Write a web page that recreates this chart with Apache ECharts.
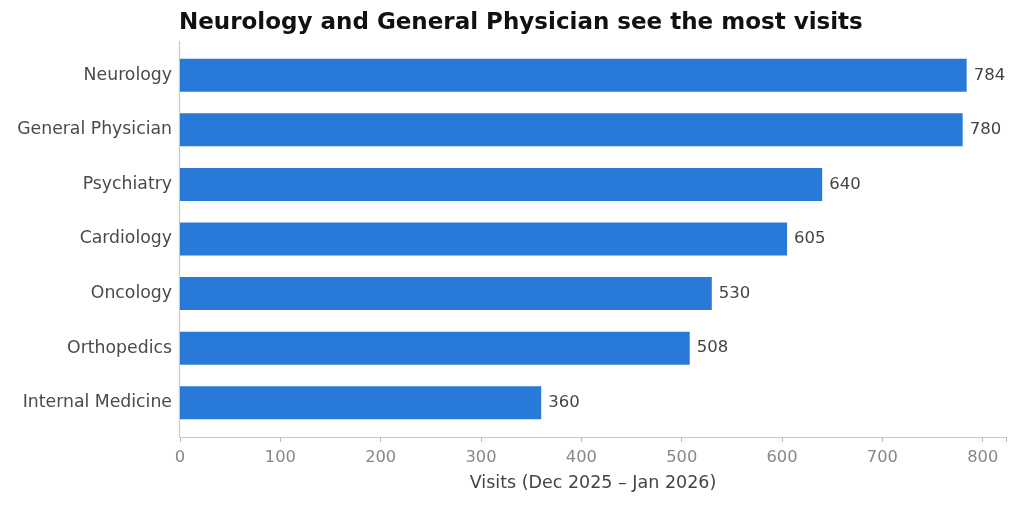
<!DOCTYPE html>
<html>
<head>
<meta charset="utf-8">
<script src="https://cdn.jsdelivr.net/npm/echarts@6/dist/echarts.min.js"></script>
<style>
  html, body { margin: 0; padding: 0; background: #fff; }
  #chart { width: 1018px; height: 506px; }
</style>
</head>
<body>
<div id="chart"></div>
<script>
// visits per specialty, top to bottom as drawn
const specialties = ['Neurology', 'General Physician', 'Psychiatry', 'Cardiology', 'Oncology', 'Orthopedics', 'Internal Medicine'];
const visits = [784, 780, 640, 605, 530, 508, 360];
const xTicks = [0, 100, 200, 300, 400, 500, 600, 700, 800];

const font = '"DejaVu Sans", sans-serif';
const chart = echarts.init(document.getElementById('chart'), null, { renderer: 'canvas' });

chart.setOption({
  animation: false,
  textStyle: { fontFamily: font },
  title: {
    text: 'Neurology and General Physician see the most visits',
    left: 179,
    top: 12,
    padding: 0,
    textStyle: { fontFamily: font, fontSize: 23, fontWeight: 'bold', color: '#111' }
  },
  grid: { left: 180, right: 12, top: 48, bottom: 76, containLabel: false },
  xAxis: {
    type: 'value',
    min: 0,
    max: 823.2,
    interval: 100,
    offset: 7,
    name: 'Visits (Dec 2025 \u2013 Jan 2026)',
    nameLocation: 'middle',
    nameGap: 37,
    nameTextStyle: { fontFamily: font, fontSize: 17.5, color: '#444' },
    splitLine: { show: false },
    axisLine: { show: true, lineStyle: { color: '#c8c8c0', width: 1.2 } },
    axisTick: { show: true, length: 5, lineStyle: { color: '#bbb' } },
    axisLabel: {
      fontFamily: font, fontSize: 16.3, color: '#888', margin: 13,
      formatter: v => (xTicks.includes(v) ? String(v) : '')
    }
  },
  yAxis: {
    type: 'category',
    data: specialties,
    inverse: true,
    axisLine: { show: false },
    axisTick: { show: false },
    axisLabel: { fontFamily: font, fontSize: 17.3, color: '#4a4a4a', margin: 8, padding: [4, 0, 0, 0] }
  },
  graphic: [{
    type: 'line',
    shape: { x1: 179.5, y1: 41, x2: 179.5, y2: 437 },
    style: { stroke: '#c8c8c0', lineWidth: 1.2 },
    silent: true
  }],
  series: [{
    type: 'bar',
    data: visits,
    barWidth: 33,
    itemStyle: { color: '#2979d8' },
    label: {
      show: true,
      position: 'right',
      distance: 7,
      fontFamily: font,
      fontSize: 16.5,
      color: '#444'
    }
  }]
});
</script>
</body>
</html>
